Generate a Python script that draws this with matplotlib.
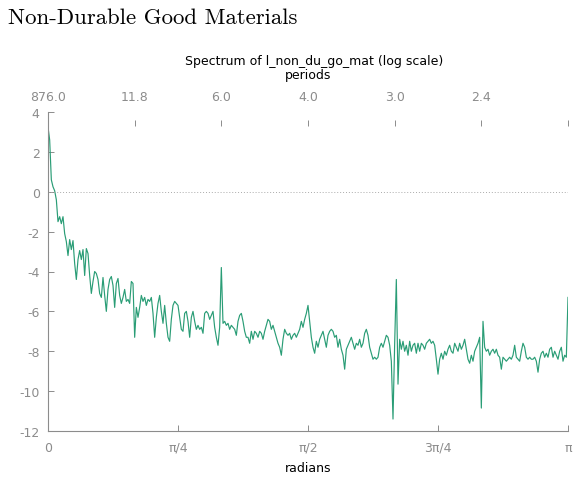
import numpy as np
import matplotlib.pyplot as plt

plt.rcParams["axes.unicode_minus"] = False

# log spectrum, evenly spaced frequencies from 0 to pi
spec = [
    3.25, 2.6, 0.6, 0.25, 0.05, -0.4, -1.5, -1.25, -1.6, -1.25,
    -2.1, -2.5, -3.2, -2.4, -2.9, -2.45, -3.6, -4.4, -3.4, -2.95,
    -3.4, -2.9, -4.2, -2.85, -3.1, -4.2, -5.1, -4.5, -4.0, -4.1,
    -4.4, -5.1, -5.3, -4.3, -5.2, -6.0, -4.9, -4.4, -4.25, -4.7,
    -5.8, -4.6, -4.35, -5.2, -5.6, -5.3, -4.9, -5.5, -5.4, -5.6,
    -4.5, -4.6, -7.3, -5.8, -6.3, -5.8, -5.2, -5.5, -5.3, -5.7,
    -5.4, -5.5, -5.3, -6.1, -7.3, -6.3, -5.6, -5.2, -6.0, -6.6,
    -5.7, -6.6, -7.3, -7.5, -6.4, -5.7, -5.5, -5.6, -5.7, -6.3,
    -6.9, -7.0, -6.1, -6.0, -6.5, -7.3, -6.3, -6.0, -6.5, -6.9,
    -6.7, -6.9, -6.8, -7.1, -6.1, -6.0, -6.1, -6.4, -6.2, -6.0,
    -6.8, -7.3, -7.7, -6.8, -3.8, -6.6, -6.5, -6.7, -6.6, -6.9,
    -6.7, -6.8, -6.9, -7.2, -6.5, -6.2, -6.1, -6.5, -7.0, -7.3,
    -7.3, -7.6, -7.0, -7.4, -7.0, -7.1, -7.3, -7.0, -7.1, -7.4,
    -7.0, -6.7, -6.4, -6.5, -6.9, -6.7, -7.0, -7.3, -7.6, -7.8,
    -8.2, -7.4, -6.9, -7.1, -7.2, -7.1, -7.4, -7.2, -7.1, -7.3,
    -7.1, -6.9, -6.5, -6.8, -6.4, -6.1, -5.7, -6.5, -7.3, -7.8,
    -8.1, -7.5, -7.8, -7.4, -7.2, -7.0, -7.4, -7.8, -7.2, -7.0,
    -6.9, -7.0, -7.3, -7.2, -7.8, -7.4, -7.9, -8.2, -8.9, -7.9,
    -7.7, -7.5, -7.3, -7.6, -7.9, -7.6, -7.7, -7.4, -7.8, -7.6,
    -7.1, -6.9, -7.2, -7.8, -8.1, -8.4, -8.3, -8.4, -8.3, -7.8,
    -7.6, -7.8, -7.5, -7.2, -7.3, -7.7, -8.5, -11.4, -7.6, -4.4,
    -9.65, -7.4, -7.9, -7.5, -8.0, -7.7, -8.2, -7.5, -8.0, -7.7,
    -7.6, -8.1, -7.6, -8.0, -7.6, -7.7, -7.9, -7.6, -7.5, -7.4,
    -7.6, -7.5, -7.7, -8.4, -9.15, -8.4, -8.1, -8.4, -8.0, -8.2,
    -7.9, -7.7, -8.0, -8.1, -7.6, -7.8, -8.0, -7.6, -7.9, -7.7,
    -7.4, -7.9, -8.4, -8.6, -8.2, -8.5, -8.0, -7.8, -7.6, -7.3,
    -10.85, -6.5, -7.8, -8.0, -7.9, -8.2, -8.0, -7.9, -8.1, -7.9,
    -8.2, -8.3, -8.9, -8.3, -8.4, -8.5, -8.4, -8.3, -8.4, -8.2,
    -7.7, -8.3, -8.4, -8.5, -8.0, -7.6, -7.8, -8.3, -8.4, -8.3,
    -8.4, -8.4, -8.3, -8.5, -9.05, -8.4, -8.1, -8.0, -8.3, -8.1,
    -8.3, -7.9, -7.8, -8.3, -8.0, -8.2, -8.4, -8.0, -7.8, -8.5,
    -8.2, -8.3, -5.3,
]
omega = np.linspace(0, np.pi, len(spec))

rad_ticks = ["0", "π/4", "π/2", "3π/4", "π"]
period_ticks = ["876.0", "11.8", "6.0", "4.0", "3.0", "2.4", ""]
y_ticks = [-12, -10, -8, -6, -4, -2, 0, 2, 4]

grey = "#8c8c8c"
line_col = "#2a9d76"
fs = 9

fig = plt.figure(figsize=(5.76, 4.81), dpi=100)
fig.text(8/576, 1 - 18/481, "Non-Durable Good Materials", family="cmr10",
         size=16.4, va="center", ha="left")
fig.text(314/576, 1 - 62/481, "Spectrum of l_non_du_go_mat (log scale)",
         size=fs, ha="center", va="center")
fig.text(308/576, 1 - 75/481, "periods", size=fs, ha="center", va="center")

ax = fig.add_axes([48/576, 49/481, 520/576, 319/481])
ax.plot(omega, spec, color=line_col, lw=0.85)
ax.axhline(0, color="#aaaaaa", lw=0.7, ls=(0, (1, 2)))

ax.set_xlim(0, np.pi)
ax.set_ylim(-12, 4)
ax.spines["top"].set_visible(False)
ax.spines["right"].set_visible(False)
for s in ["left", "bottom"]:
    ax.spines[s].set_color(grey)
    ax.spines[s].set_linewidth(0.8)

ax.set_xticks(np.pi * np.arange(len(rad_ticks)) / 4, rad_ticks)
ax.set_yticks(y_ticks)
ax.tick_params(axis="x", direction="in", length=4, width=0.7, color=grey,
               labelcolor=grey, labelsize=fs, pad=7)
ax.tick_params(axis="y", direction="in", length=4, width=0.7, color=grey,
               labelcolor=grey, labelsize=fs, pad=6)
ax.set_xlabel("radians", fontsize=fs, labelpad=5)

top = ax.secondary_xaxis(1 - 8/319)
top.set_xticks(np.pi * np.arange(len(period_ticks)) / 6, period_ticks)
for s in top.spines.values():
    s.set_visible(False)
top.tick_params(direction="in", length=4, width=0.7, color=grey,
                labelcolor=grey, labelsize=fs, pad=12)

fig.savefig("out.png", dpi=100)
